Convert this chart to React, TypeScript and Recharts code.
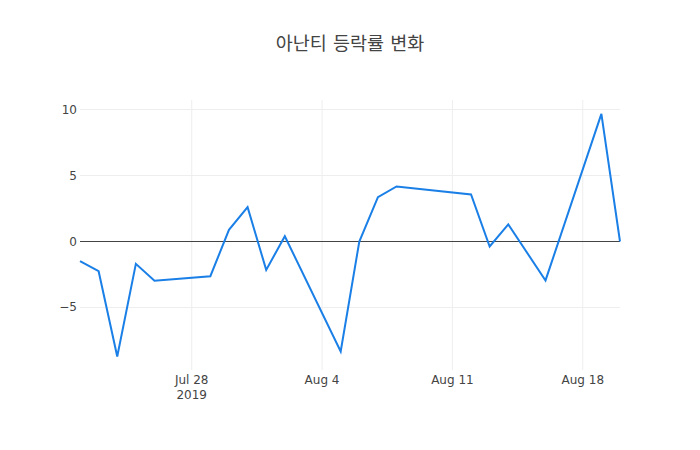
import React from "react";
import {
  CartesianGrid,
  Line,
  LineChart,
  ReferenceLine,
  XAxis,
  YAxis,
} from "recharts";

// 아난티 daily change (%)
const dates = [
  "2019-07-22", "2019-07-23", "2019-07-24", "2019-07-25", "2019-07-26",
  "2019-07-29", "2019-07-30", "2019-07-31", "2019-08-01", "2019-08-02",
  "2019-08-05", "2019-08-06", "2019-08-07", "2019-08-08", "2019-08-12",
  "2019-08-13", "2019-08-14", "2019-08-16", "2019-08-19", "2019-08-20",
];
const changes = [
  -1.49, -2.25, -8.71, -1.69, -2.98,
  -2.63, 0.88, 2.6, -2.15, 0.4,
  -8.33, 0, 3.36, 4.17, 3.56,
  -0.38, 1.29, -2.95, 9.67, 0,
];
const xTickDates = ["2019-07-28", "2019-08-04", "2019-08-11", "2019-08-18"];
const xTickLabels = ["Jul 28", "Aug 4", "Aug 11", "Aug 18"];
const yTicks = [-5, 0, 5, 10];

const toTime = (d: string) => Date.parse(d + "T00:00:00Z");

const chartData = dates.map((d, i) => ({ t: toTime(d), change: changes[i] }));
const xTicks = xTickDates.map(toTime);

const FONT = '"DejaVu Sans", Verdana, sans-serif';

function XTick(props: any) {
  const { x, y, payload } = props;
  const idx = xTicks.indexOf(payload.value);
  return (
    <g>
      <text
        x={x}
        y={y + 6}
        textAnchor="middle"
        fontFamily={FONT}
        fontSize={12}
        fill="#444"
      >
        {xTickLabels[idx]}
      </text>
      {idx === 0 && (
        <text
          x={x}
          y={y + 21}
          textAnchor="middle"
          fontFamily={FONT}
          fontSize={12}
          fill="#444"
        >
          2019
        </text>
      )}
    </g>
  );
}

function YTick(props: any) {
  const { y, payload } = props;
  const v = payload.value as number;
  return (
    <text
      x={77}
      y={y + 4}
      textAnchor="end"
      fontFamily={FONT}
      fontSize={12}
      fill="#444"
    >
      {v < 0 ? "\u2212" + Math.abs(v) : String(v)}
    </text>
  );
}

export default function App() {
  return (
    <div
      style={{
        position: "absolute",
        left: 0,
        top: 0,
        width: 700,
        height: 450,
        background: "#fff",
      }}
    >
      <div
        style={{
          position: "absolute",
          left: 0,
          top: 29,
          width: 700,
          textAlign: "center",
          fontFamily: '"Noto Sans CJK KR", sans-serif',
          fontSize: 18.5,
          color: "#444",
          wordSpacing: 2,
        }}
      >
        아난티 등락률 변화
      </div>
      <LineChart
        width={700}
        height={450}
        data={chartData}
        margin={{ top: 100, right: 80, bottom: 0, left: 40 }}
      >
        <CartesianGrid
          stroke="#eee"
          strokeWidth={1}
          horizontalValues={yTicks}
          verticalValues={xTicks}
        />
        <XAxis
          dataKey="t"
          type="number"
          scale="linear"
          domain={[toTime(dates[0]), toTime(dates[dates.length - 1])]}
          ticks={xTicks}
          tick={<XTick />}
          tickLine={false}
          axisLine={false}
          height={80}
          interval={0}
        />
        <YAxis
          type="number"
          domain={[-9.735, 10.72]}
          ticks={yTicks}
          tick={<YTick />}
          tickLine={false}
          axisLine={false}
          width={40}
          allowDataOverflow
          interval={0}
        />
        <ReferenceLine y={0} stroke="#444" strokeWidth={1} />
        <Line
          type="linear"
          dataKey="change"
          stroke="#1a7fe6"
          strokeWidth={2}
          dot={false}
          isAnimationActive={false}
        />
      </LineChart>
    </div>
  );
}
